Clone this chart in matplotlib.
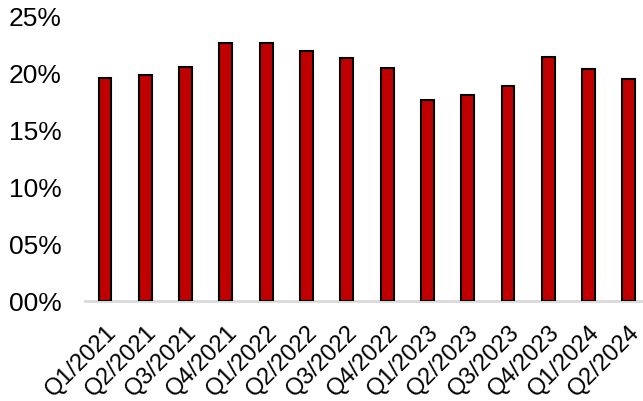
import matplotlib.pyplot as plt
from matplotlib.ticker import FuncFormatter
from matplotlib.transforms import ScaledTranslation

quarters = ["Q1/2021", "Q2/2021", "Q3/2021", "Q4/2021",
            "Q1/2022", "Q2/2022", "Q3/2022", "Q4/2022",
            "Q1/2023", "Q2/2023", "Q3/2023", "Q4/2023",
            "Q1/2024", "Q2/2024"]
share = [19.55, 19.8, 20.55, 22.6, 22.65, 21.9, 21.3, 20.4,
         17.6, 18.1, 18.85, 21.4, 20.3, 19.45]

plt.rcParams["font.family"] = ["Liberation Sans", "DejaVu Sans"]

fig = plt.figure(figsize=(6.43, 4.02), dpi=100)
ax = fig.add_axes([0.132, 0.249, 0.868, 0.709])

x = list(range(len(quarters)))
ax.bar(x, [v / 100 for v in share], width=0.32, color="#c00000",
       edgecolor="black", linewidth=1.5, zorder=3)

ax.set_ylim(0, 0.25)
ax.set_xlim(-0.5, 13.35)
ax.set_yticks([0, 0.05, 0.10, 0.15, 0.20, 0.25])
ax.yaxis.set_major_formatter(FuncFormatter(lambda v, p: "%02d%%" % round(v * 100)))
ax.set_xticks(x)
ax.set_xticklabels(quarters, rotation=45, ha="right", rotation_mode="anchor")

# pull the slanted labels a touch to the left
shift = ScaledTranslation(-2 / 100, 0, fig.dpi_scale_trans)
for lbl in ax.get_xticklabels():
    lbl.set_transform(lbl.get_transform() + shift)

for s in ["top", "right", "left"]:
    ax.spines[s].set_visible(False)
ax.spines["bottom"].set_color("#d9d9d9")
ax.spines["bottom"].set_linewidth(2)
ax.spines["bottom"].set_zorder(1)

ax.tick_params(axis="y", length=0, pad=17, labelsize=19)
ax.tick_params(axis="x", length=0, pad=14, labelsize=17)

fig.savefig("out.png", dpi=100)
